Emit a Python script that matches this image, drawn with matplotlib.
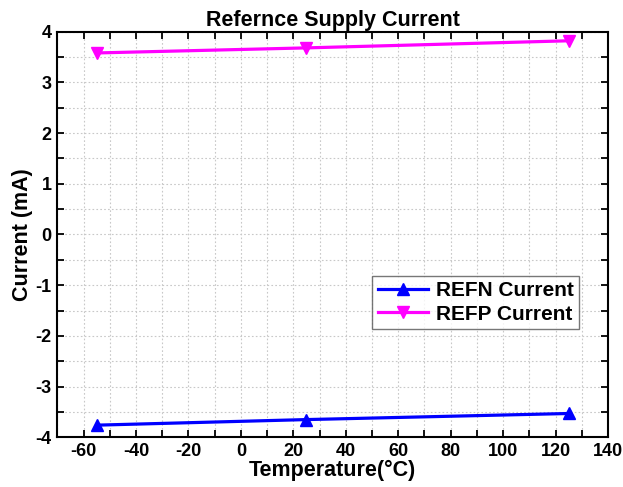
import matplotlib
matplotlib.use("Agg")
import matplotlib.pyplot as plt
from matplotlib.ticker import MultipleLocator

plt.rcParams['font.family'] = ['Liberation Sans', 'DejaVu Sans']
plt.rcParams['font.weight'] = 'bold'
plt.rcParams['axes.unicode_minus'] = False

temperature = [-55, 25, 125]
refn_current = [-3.76, -3.65, -3.53]
refp_current = [3.58, 3.68, 3.82]

fig = plt.figure(figsize=(6.23, 4.87), dpi=100)
ax = fig.add_axes([0.092, 0.102, 0.884, 0.833])

ax.plot(temperature, refn_current, color='#0000ff', lw=2.3, marker='^',
        markersize=8, label='REFN Current')
ax.plot(temperature, refp_current, color='#ff00ff', lw=2.3, marker='v',
        markersize=8, label='REFP Current')

ax.set_xlim(-70, 140)
ax.set_ylim(-4, 4)
ax.xaxis.set_major_locator(MultipleLocator(20))
ax.xaxis.set_minor_locator(MultipleLocator(10))
ax.yaxis.set_major_locator(MultipleLocator(1))
ax.yaxis.set_minor_locator(MultipleLocator(0.5))

ax.grid(True, which='both', color='#c8c8c8', linestyle=(0, (1.5, 2)), lw=0.8)
ax.tick_params(which='both', direction='in', top=True, right=True,
               length=5, width=1.3, labelsize=13, pad=4)
for s in ax.spines.values():
    s.set_linewidth(1.5)

ax.set_xlabel('Temperature(°C)', fontsize=15.5, fontweight='bold', labelpad=0)
ax.set_ylabel('Current (mA)', fontsize=15.5, fontweight='bold', labelpad=2)
ax.set_title('Refernce Supply Current', fontsize=15.5, fontweight='bold', pad=4)

leg = ax.legend(loc='upper left', bbox_to_anchor=(0.572, 0.397), fontsize=15,
                frameon=True, fancybox=False, edgecolor='#555555',
                handlelength=2.4, borderpad=0.25, labelspacing=0.2,
                handletextpad=0.4, borderaxespad=0)
leg.get_frame().set_linewidth(1.0)

fig.savefig('out.png', dpi=100)
